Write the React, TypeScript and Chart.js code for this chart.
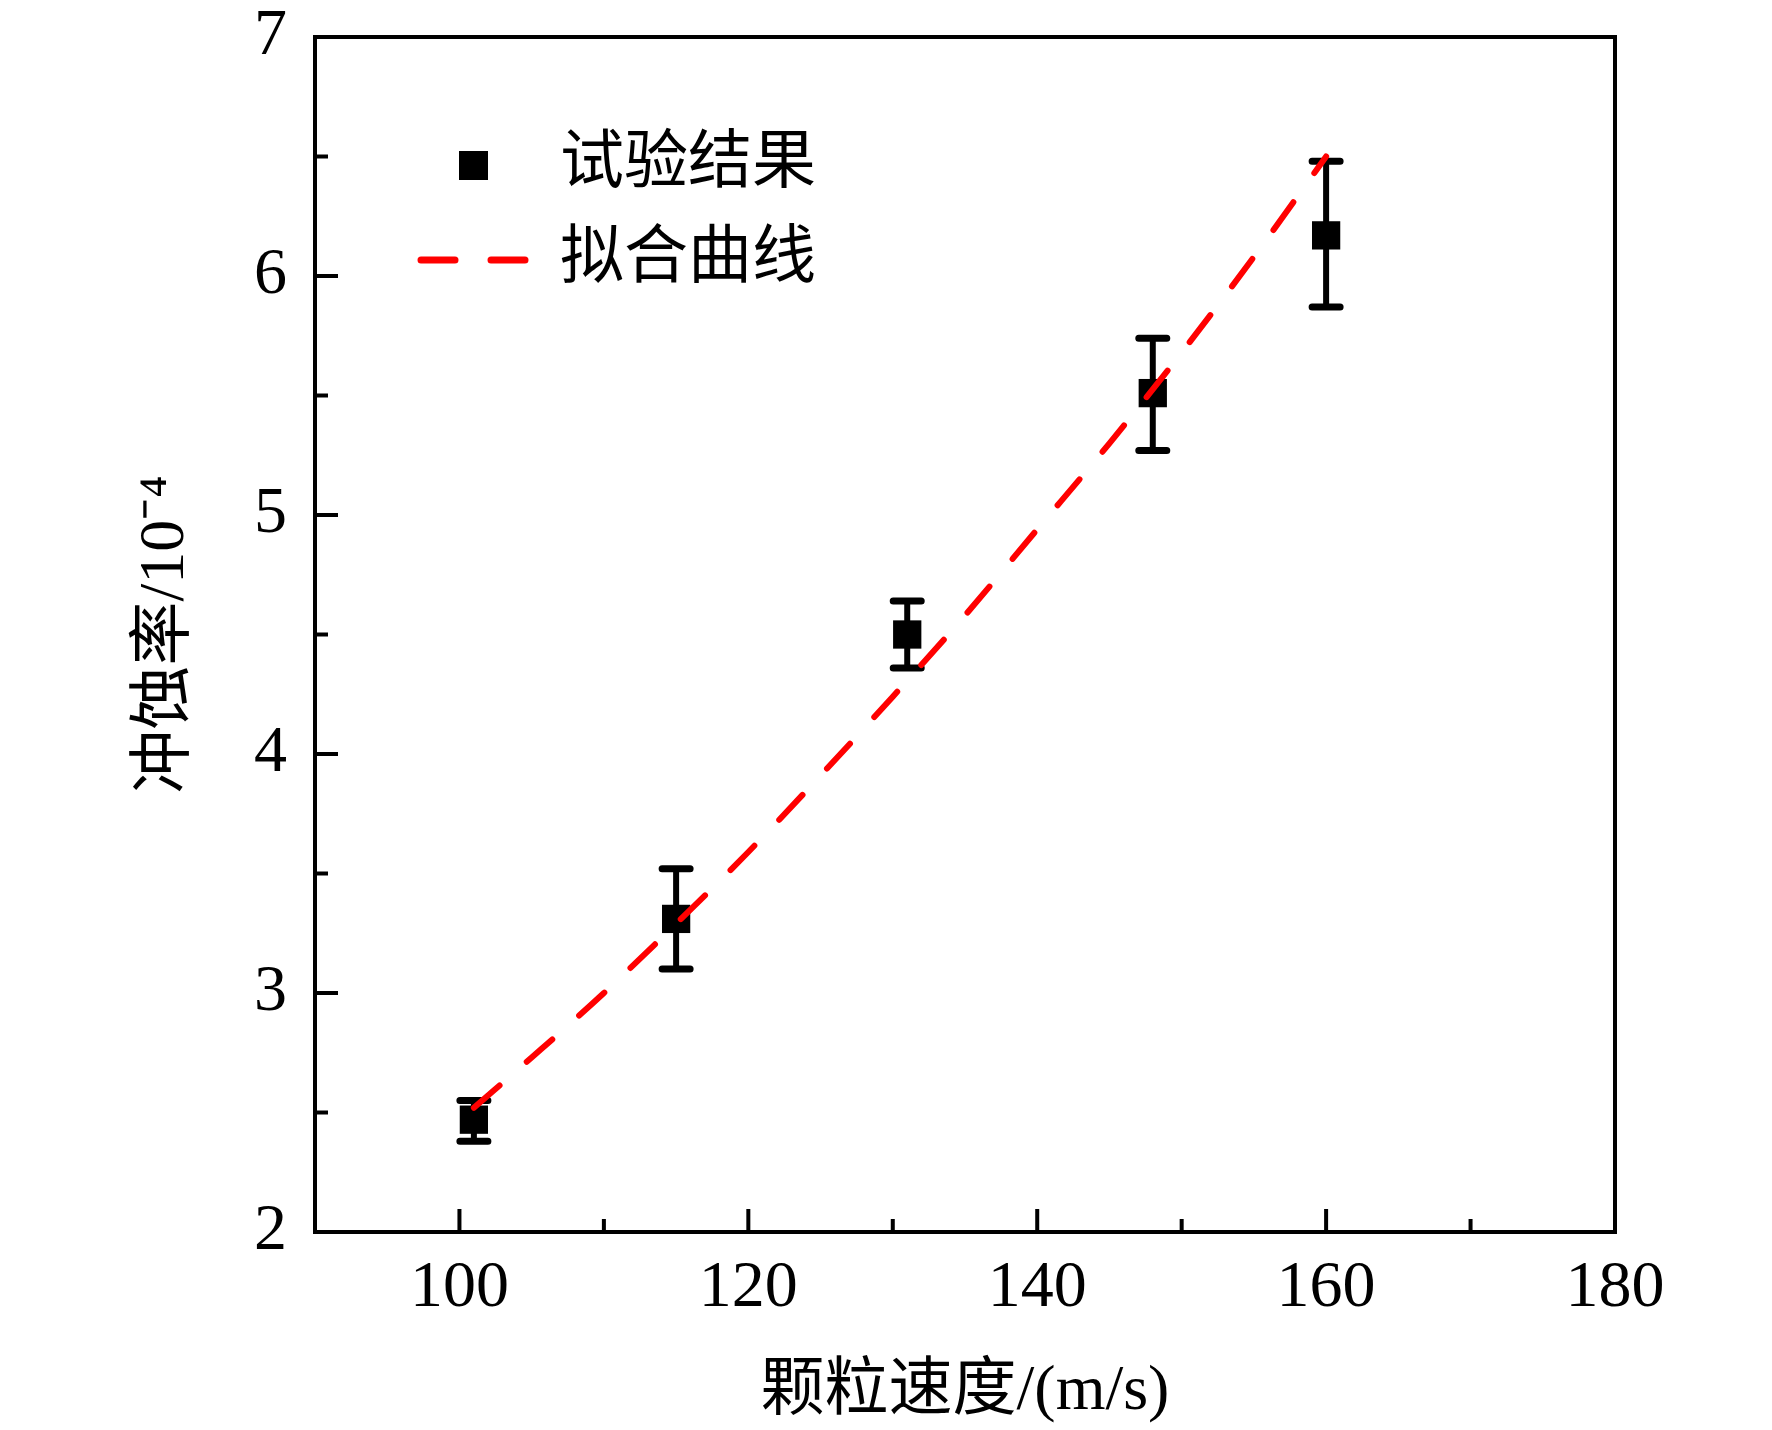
import React, { useEffect, useRef } from 'react';
import { Chart, registerables } from 'chart.js';

Chart.register(...registerables);

// test results (particle speed m/s, erosion rate x1e-4) with error bar limits
const speed = [101, 115, 131, 148, 160];
const rate = [2.47, 3.31, 4.5, 5.51, 6.17];
const errLow = [2.38, 3.1, 4.36, 5.27, 5.87];
const errHigh = [2.55, 3.52, 4.64, 5.74, 6.48];

// fitted curve
const fitX = [101, 105, 110, 115, 120, 125, 130, 135, 140, 145, 150, 155, 160];
const fitY = [2.52, 2.73, 3.0, 3.29, 3.59, 3.91, 4.24, 4.58, 4.94, 5.3, 5.68, 6.08, 6.5];

const xTicks = [100, 120, 140, 160, 180];
const xMinor = [110, 130, 150, 170];
const yTicks = [2, 3, 4, 5, 6, 7];
const yMinor = [2.5, 3.5, 4.5, 5.5, 6.5];

const seriesNames = ['试验结果', '拟合曲线'];

const FAMILY = '"Liberation Serif", "Noto Sans CJK SC", serif';
const RED = '#ff0000';
const DASH = [34, 36];

const framePlugin = {
  id: 'frame',
  beforeDatasetsDraw(chart: any) {
    const { ctx, scales } = chart;
    const xs = scales.x;
    const ys = scales.y;
    ctx.save();
    ctx.strokeStyle = '#000';
    for (let i = 0; i < speed.length; i++) {
      const px = xs.getPixelForValue(speed[i]);
      const top = ys.getPixelForValue(errHigh[i]);
      const bot = ys.getPixelForValue(errLow[i]);
      ctx.lineWidth = 6;
      ctx.lineCap = 'butt';
      ctx.beginPath();
      ctx.moveTo(px, top);
      ctx.lineTo(px, bot);
      ctx.stroke();
      ctx.lineWidth = 7;
      ctx.lineCap = 'round';
      ctx.beginPath();
      ctx.moveTo(px - 14, top);
      ctx.lineTo(px + 14, top);
      ctx.moveTo(px - 14, bot);
      ctx.lineTo(px + 14, bot);
      ctx.stroke();
    }
    ctx.restore();
  },
  afterDraw(chart: any) {
    const { ctx, chartArea, scales } = chart;
    const { left, right, top, bottom } = chartArea;
    const xs = scales.x;
    const ys = scales.y;
    ctx.save();
    ctx.strokeStyle = '#000';
    ctx.lineWidth = 4;
    ctx.lineCap = 'butt';
    ctx.strokeRect(left, top, right - left, bottom - top);

    ctx.beginPath();
    xTicks.forEach((v) => {
      const p = xs.getPixelForValue(v);
      ctx.moveTo(p, bottom);
      ctx.lineTo(p, bottom - 23);
    });
    xMinor.forEach((v) => {
      const p = xs.getPixelForValue(v);
      ctx.moveTo(p, bottom);
      ctx.lineTo(p, bottom - 13);
    });
    yTicks.forEach((v) => {
      const p = ys.getPixelForValue(v);
      ctx.moveTo(left, p);
      ctx.lineTo(left + 23, p);
    });
    yMinor.forEach((v) => {
      const p = ys.getPixelForValue(v);
      ctx.moveTo(left, p);
      ctx.lineTo(left + 13, p);
    });
    ctx.stroke();

    // legend inside the plot, upper left
    const lx = left + 158;
    const row1 = top + 128;
    const row2 = top + 223;
    ctx.fillStyle = '#000';
    ctx.fillRect(lx - 14, row1 - 14, 29, 29);
    ctx.strokeStyle = RED;
    ctx.lineWidth = 7;
    ctx.lineCap = 'round';
    ctx.setLineDash(DASH);
    ctx.beginPath();
    ctx.moveTo(lx - 52, row2);
    ctx.lineTo(lx + 56, row2);
    ctx.stroke();
    ctx.setLineDash([]);
    ctx.font = `64px ${FAMILY}`;
    ctx.textBaseline = 'middle';
    ctx.textAlign = 'left';
    ctx.fillText(seriesNames[0], lx + 87, row1);
    ctx.fillText(seriesNames[1], lx + 87, row2);
    ctx.restore();
  },
};

export default function App() {
  const canvasRef = useRef<HTMLCanvasElement | null>(null);

  useEffect(() => {
    document.body.style.margin = '0';
    const el = canvasRef.current;
    if (!el) return;

    const tickFont = { family: FAMILY, size: 66, lineHeight: 1 };
    const titleFont = { family: FAMILY, size: 64, lineHeight: 1 };

    const chart = new Chart(el, {
      type: 'scatter',
      data: {
        datasets: [
          {
            label: seriesNames[1],
            type: 'line',
            data: fitX.map((x, i) => ({ x, y: fitY[i] })),
            borderColor: RED,
            borderWidth: 6,
            borderDash: DASH,
            borderCapStyle: 'round',
            pointRadius: 0,
            fill: false,
            cubicInterpolationMode: 'monotone',
            order: 0,
          },
          {
            label: seriesNames[0],
            data: speed.map((x, i) => ({ x, y: rate[i] })),
            pointStyle: 'rect',
            pointRadius: 20,
            backgroundColor: '#000',
            borderColor: '#000',
            borderWidth: 0,
            order: 1,
          },
        ],
      },
      options: {
        responsive: false,
        animation: false,
        devicePixelRatio: 1,
        layout: { padding: { left: 0, right: 157, top: 37, bottom: 0 }, autoPadding: false },
        plugins: {
          legend: { display: false },
          tooltip: { enabled: false },
        },
        scales: {
          x: {
            type: 'linear',
            min: 90,
            max: 180,
            afterBuildTicks: (s: any) => {
              s.ticks = xTicks.map((v) => ({ value: v }));
            },
            afterFit: (s: any) => {
              s.height = 198;
              s.paddingLeft = 0;
              s.paddingRight = 0;
            },
            grid: { display: false, drawTicks: false },
            border: { display: false },
            ticks: { font: tickFont, color: '#000', padding: 24, maxRotation: 0 },
            title: {
              display: true,
              text: '颗粒速度/(m/s)',
              font: titleFont,
              color: '#000',
              padding: { bottom: 6 },
            },
          },
          y: {
            type: 'linear',
            min: 2,
            max: 7,
            afterBuildTicks: (s: any) => {
              s.ticks = yTicks.map((v) => ({ value: v }));
            },
            afterFit: (s: any) => {
              s.width = 315;
              s.paddingTop = 0;
              s.paddingBottom = 0;
            },
            grid: { display: false, drawTicks: false },
            border: { display: false },
            ticks: { font: tickFont, color: '#000', padding: 28 },
            title: {
              display: true,
              text: '冲蚀率/10⁻⁴',
              font: titleFont,
              color: '#000',
              padding: { top: 134 },
            },
          },
        },
      },
      plugins: [framePlugin],
    });

    return () => {
      chart.destroy();
    };
  }, []);

  return <canvas ref={canvasRef} width={1772} height={1430} style={{ display: 'block' }} />;
}
